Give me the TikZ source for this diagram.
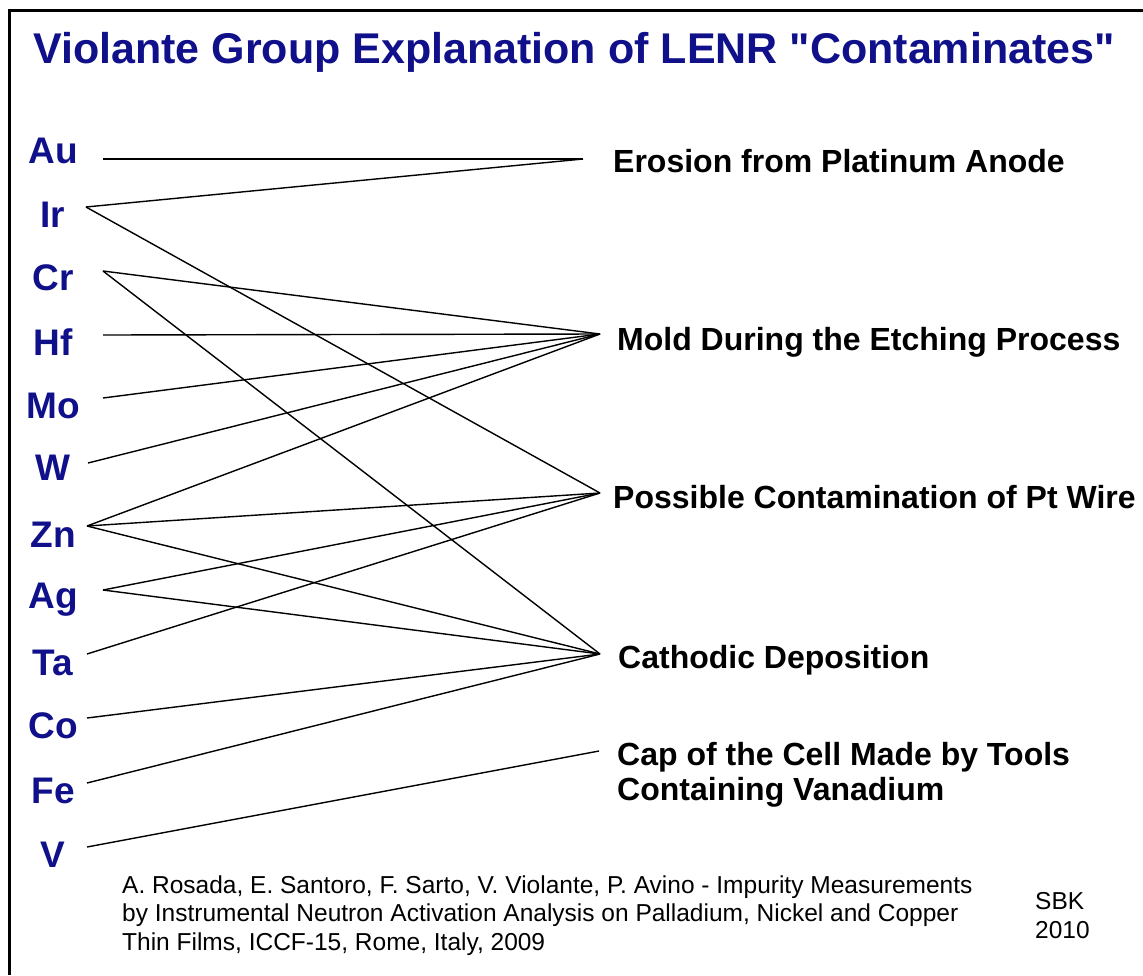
\documentclass[tikz,border=0pt]{standalone}
\usepackage{fontspec}
\setmainfont{Liberation Sans}[Ligatures=TeXOff]
\definecolor{navy}{HTML}{10108A}

\begin{document}
\begin{tikzpicture}[x=1pt,y=-1pt,
    elem/.style={font=\fontsize{37}{40}\selectfont\bfseries,text=navy,anchor=base,inner sep=0pt},
    cause/.style={font=\fontsize{32}{35}\selectfont\bfseries,anchor=base west,inner sep=0pt,align=left},
    note/.style={font=\fontsize{24.5}{28.5}\selectfont,anchor=base west,inner sep=0pt,align=left},
    link/.style={black,line width=1.4pt}]
        \useasboundingbox (0,0) rectangle (1143,975);
        % frame and title
        \draw[line width=3pt] (1143,10) -- (9,10) -- (9,975);
        \node[font=\fontsize{43}{46}\selectfont\bfseries,text=navy,anchor=base] (title) at (574,63) {Violante Group Explanation of LENR "Contaminates"};
        % contaminants
        \foreach \n/\t/\y/\x/\ly in {au/Au/163/103/159, ir/Ir/227/86/207, cr/Cr/290/103/271, hf/Hf/355/103/335,
            mo/Mo/418/103/398, w/W/480/88/463, zn/Zn/547/87/526, ag/Ag/608/103/590,
            ta/Ta/675/87/654, co/Co/738/87/718, fe/Fe/803/87/783, v/V/867/87/847}{
          \node[elem] (\n) at (53,\y) {\t};
          \coordinate (\n-r) at (\x,\ly);}
        % explanations
        \node[cause] (erosion) at (613,172) {Erosion from Platinum Anode};
        \coordinate (erosion-l) at (583,159);
        \node[cause] (mold) at (617,350) {Mold During the Etching Process};
        \coordinate (mold-l) at (600,334);
        \node[cause] (wire) at (613,508) {Possible Contamination of Pt Wire};
        \coordinate (wire-l) at (600,493);
        \node[cause] (cathode) at (618,668) {Cathodic Deposition};
        \coordinate (cathode-l) at (600,654);
        \node[cause] (cap) at (617,800) {Cap of the Cell Made by Tools\\Containing Vanadium};
        \coordinate (cap-l) at (599,751);
        % links
        \foreach \a/\b in {au/erosion, ir/erosion, ir/wire, cr/mold, cr/cathode, hf/mold, mo/mold, w/mold,
            zn/mold, zn/wire, zn/cathode, ag/wire, ag/cathode, ta/wire, co/cathode, fe/cathode, v/cap}
          \draw[link] (\a-r) -- (\b-l);
        % reference
        \node[note] (ref) at (122,950) {A. Rosada, E. Santoro, F. Sarto, V. Violante, P. Avino - Impurity Measurements\\by Instrumental Neutron Activation Analysis on Palladium, Nickel and Copper\\Thin Films, ICCF-15, Rome, Italy, 2009};
        \node[note] (sbk) at (1035,938) {SBK\\2010};
\end{tikzpicture}
\end{document}
